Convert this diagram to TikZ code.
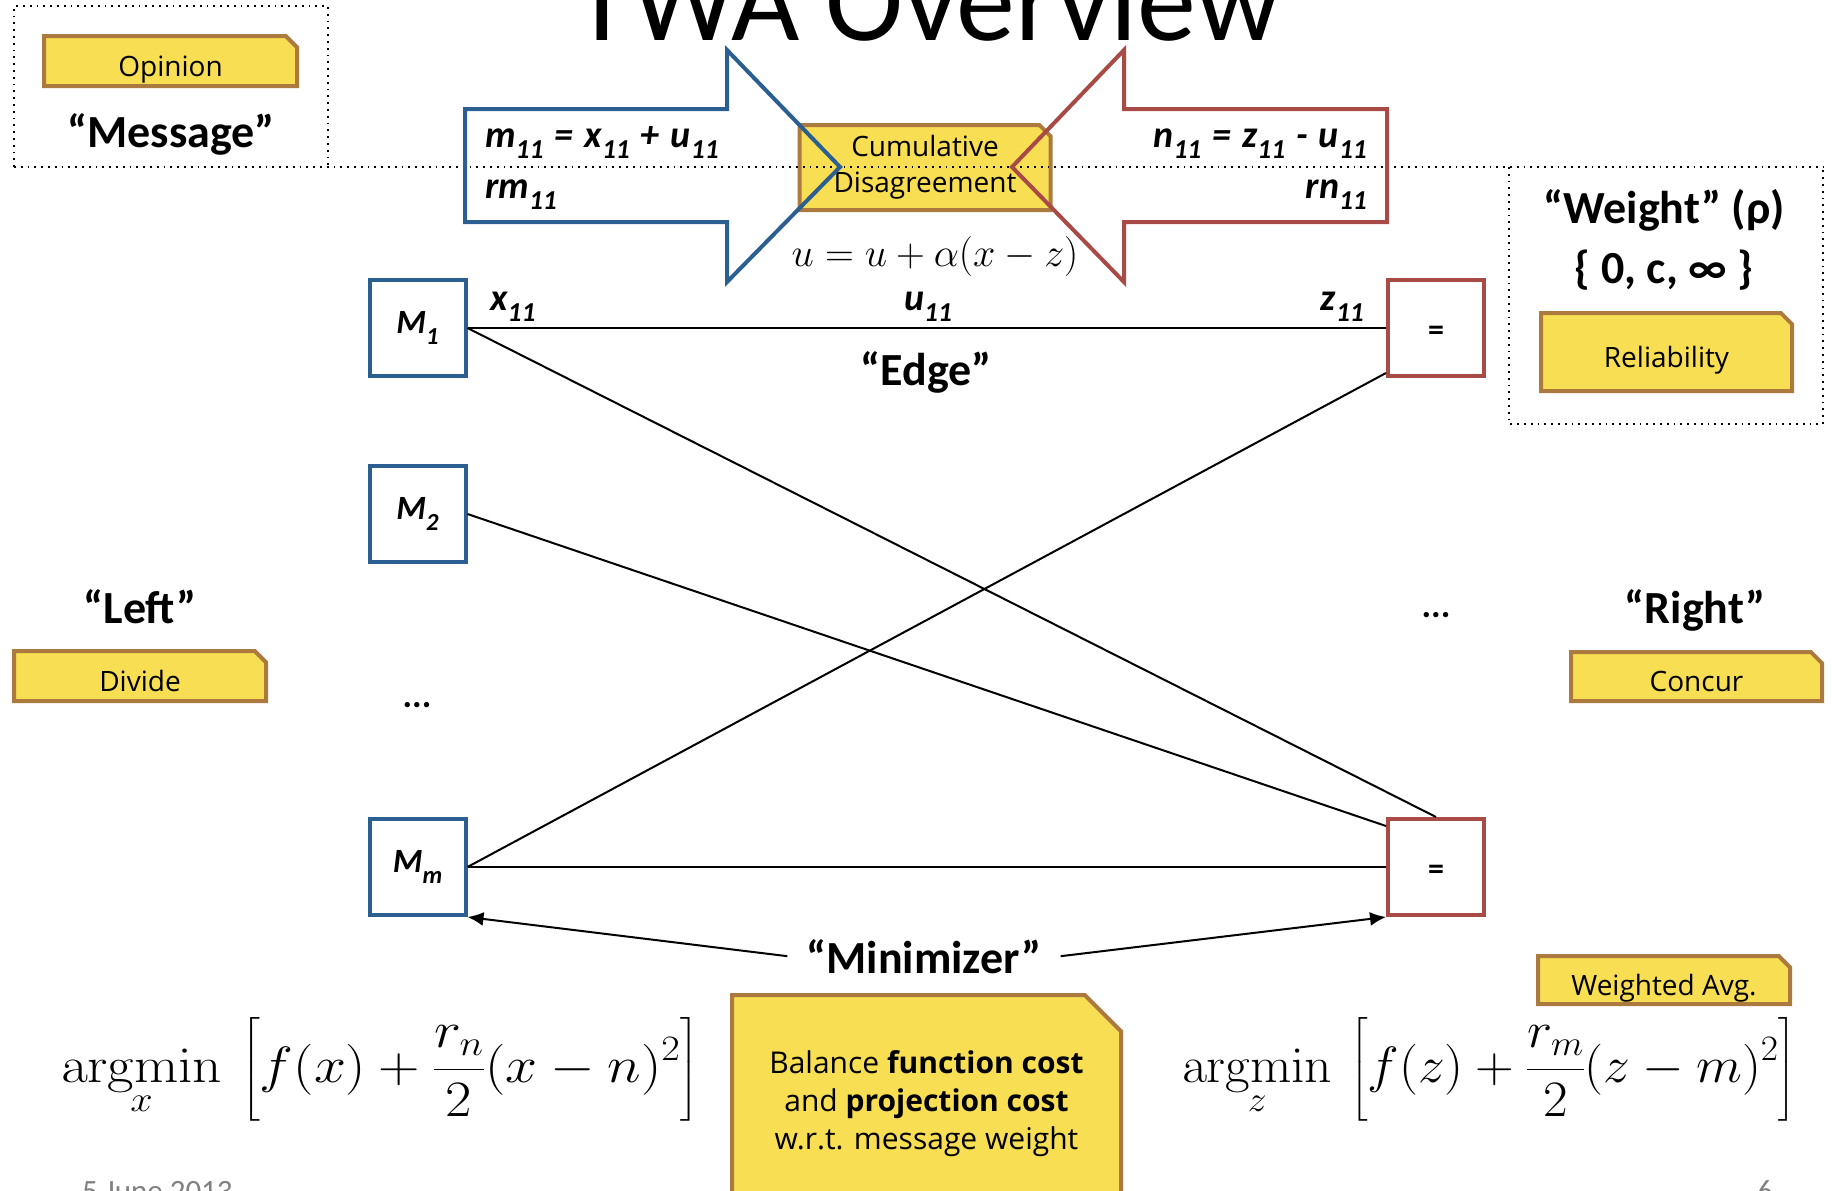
\documentclass[tikz,border=0pt]{standalone}
\usepackage{fix-cm}
\usepackage{amsmath}
\usepackage[no-math]{fontspec}
\setmainfont{Carlito}
\newfontfamily\notefont{Open Sans}
\usetikzlibrary{shapes.misc,arrows.meta}

\definecolor{noteyellow}{RGB}{248,222,82}
\definecolor{notebrown}{RGB}{172,122,62}
\definecolor{mblue}{RGB}{44,95,145}
\definecolor{zred}{RGB}{168,75,70}

\newcommand{\idx}[1]{\raisebox{-.3em}{\scalebox{.72}{#1}}}
\newcommand{\op}[1]{\hspace{2.5pt}#1\hspace{2.5pt}}

\tikzset{
  note/.style={chamfered rectangle,chamfered rectangle corners=north east,
    chamfered rectangle xsep=8pt,draw=notebrown,fill=noteyellow,line width=4pt,
    inner sep=0pt,font=\notefont\fontsize{28}{36}\selectfont,align=center},
  tag/.style={note,text height=30pt,text depth=0pt},
  mbox/.style={draw=mblue,line width=4pt,minimum size=96pt,inner sep=0pt,
    font=\bfseries\itshape\fontsize{34}{40}\selectfont},
  zbox/.style={draw=zred,line width=4pt,minimum size=96pt,inner sep=0pt,
    text height=24pt,text depth=0pt,font=\bfseries\fontsize{32}{40}\selectfont},
  big/.style={inner sep=0pt,font=\bfseries\fontsize{46}{52}\selectfont},
  var/.style={inner sep=0pt,font=\bfseries\itshape\fontsize{38}{44}\selectfont},
  formula/.style={anchor=base west,inner sep=0pt,font=\fontsize{51}{60}\selectfont},
  region/.style={line width=1.8pt,dash pattern=on 1.8pt off 5pt},
  link/.style={line width=2pt},
  minarrow/.style={line width=2pt,-{Latex[length=16pt,width=14pt]}}
}

\begin{document}
\begin{tikzpicture}[x=1pt,y=-1pt]
\useasboundingbox (0,0) rectangle (1832,1191);
\node[anchor=base,inner sep=0pt,font=\fontsize{118}{126}\selectfont] (title) at (927,40) {TWA Overview};

% dotted regions
\draw[region] (14,167) -- (14,6) -- (328,6) -- (328,167);
\draw[region] (1509,167) -- (1509,424) -- (1823,424) -- (1823,167);
\node[note,minimum width=251pt,minimum height=85pt] (cumul) at (925,167.5) {Cumulative\\Disagreement};
\draw[region] (14,167) -- (1823,167);

% message arrows
\draw[mblue,line width=4pt] (465,109) -- (727,109) -- (727,50) -- (840,167) -- (727,282) -- (727,222) -- (465,222) -- cycle;
\draw[zred,line width=4pt] (1387,109) -- (1124,109) -- (1124,50) -- (1012,167) -- (1124,282) -- (1124,222) -- (1387,222) -- cycle;
\node[var,anchor=base west] (mmsg) at (485,147) {m\idx{11} \op{=} x\idx{11} \op{+} u\idx{11}};
\node[var,anchor=base west] (rm) at (485,198) {rm\idx{11}};
\node[var,anchor=base east] (nmsg) at (1367,147) {n\idx{11} \op{=} z\idx{11} \op{-} u\idx{11}};
\node[var,anchor=base east] (rn) at (1367,198) {rn\idx{11}};
\node[anchor=base,inner sep=0pt,font=\fontsize{40}{48}\selectfont] (update) at (935,266) {$u = u + \alpha(x - z)$};

% message box
\node[tag,minimum width=253pt,minimum height=50pt] (opinion) at (170.5,61) {Opinion};
\node[big,anchor=base] (message) at (171,147) {“Message”};

% weight box
\node[big,anchor=base] (weight) at (1664,223) {“Weight” (ρ)};
\node[big,anchor=base] (range) at (1664,283) {\{ 0, c, ∞ \}};
\node[tag,minimum width=251pt,minimum height=78pt] (reliab) at (1666.5,352) {Reliability};

% left and right
\node[mbox] (M1) at (417.5,328) {M\idx{1}};
\node[mbox] (M2) at (417.5,514) {M\idx{2}};
\node[mbox] (Mm) at (417.5,867) {M\idx{m}};
\node[zbox] (eq1) at (1436,328) {=};
\node[zbox] (eqm) at (1436,867) {=};
\node[big,anchor=base,font=\bfseries\fontsize{36}{40}\selectfont] (ldots) at (417,707) {...};
\node[big,anchor=base,font=\bfseries\fontsize{36}{40}\selectfont] (rdots) at (1436,617) {...};

\draw[link] (M1.east) -- (eq1.west);
\draw[link] (M1.east) -- (eqm.north);
\draw[link] (M2.east) -- ([yshift=-9pt]eqm.north west);
\draw[link] (Mm.east) -- ([yshift=5pt]eq1.south west);
\draw[link] (Mm.east) -- (eqm.west);

\node[var,anchor=base west] (x11) at (490,310) {x\idx{11}};
\node[var,anchor=base] (u11) at (928,310) {u\idx{11}};
\node[var,anchor=base east] (z11) at (1364,310) {z\idx{11}};
\node[big,anchor=base] (edgelbl) at (926,385) {“Edge”};

\node[big,anchor=base] (left) at (140,623) {“Left”};
\node[tag,minimum width=252pt,minimum height=50pt] (divide) at (140,676) {Divide};
\node[big,anchor=base] (right) at (1695,623) {“Right”};
\node[tag,minimum width=251pt,minimum height=49pt] (concur) at (1696.5,676.5) {Concur};

% minimizer
\node[big,anchor=base,inner xsep=19pt] (minim) at (924,973) {“Minimizer”};
\draw[minarrow] (minim.west) -- (Mm.south east);
\draw[minarrow] (minim.east) -- (eqm.south west);
\node[tag,minimum width=252pt,minimum height=48pt] (wavg) at (1664,980) {Weighted Avg.};
\node[note,chamfered rectangle xsep=33pt,minimum width=389pt,minimum height=218pt,
  font=\notefont\fontsize{30}{38}\selectfont] (balance) at (926.5,1104)
  {Balance \textbf{function cost}\\and \textbf{projection cost}\\w.r.t. message weight};

\node[formula,xscale=1.125] (fx) at (61,1082)
  {$\displaystyle\mathop{\mathrm{argmin}}\limits_{x}\,\left[f(x)+\frac{r_n}{2}(x-n)^2\right]$};
\node[formula,xscale=1.05] (fz) at (1182,1082)
  {$\displaystyle\mathop{\mathrm{argmin}}\limits_{z}\,\left[f(z)+\frac{r_m}{2}(z-m)^2\right]$};

% footer
\node[anchor=base west,inner sep=0pt,text=gray,font=\fontsize{31}{34}\selectfont] (date) at (82,1201) {5 June 2013};
\node[anchor=base west,inner sep=0pt,text=gray,font=\fontsize{31}{34}\selectfont] (page) at (1757,1201) {6};
\end{tikzpicture}
\end{document}
